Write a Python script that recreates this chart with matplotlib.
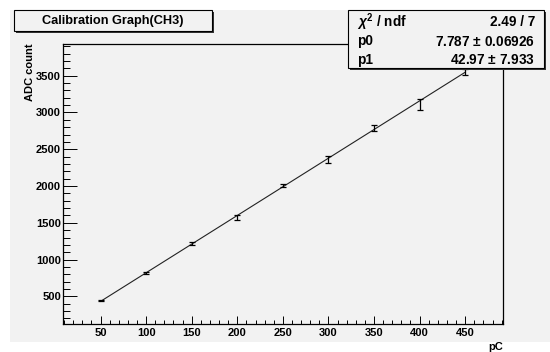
import matplotlib
matplotlib.use("Agg")
import matplotlib.pyplot as plt
from matplotlib.patches import Rectangle
from matplotlib.ticker import MultipleLocator
import numpy as np

# ---- data ----
charge_pC = [50, 100, 150, 200, 250, 300, 350, 400, 450]
adc_count = [440, 818, 1220, 1573, 2012, 2357, 2788, 3110, 3545]
adc_error = [8, 15, 15, 40, 20, 50, 40, 80, 40]
fit_p0 = 7.787
fit_p1 = 42.97
title_text = "Calibration Graph(CH3)"
stats_rows = [("$\\chi^{2}$ / ndf", "2.49 / 7"),
              ("p0", "7.787 $\\pm$ 0.06926"),
              ("p1", "42.97 $\\pm$ 7.933")]
x_label = "pC"
y_label = "ADC count"

W, H = 550, 352
BG = "#f2f2f2"
FONT = ["Liberation Sans", "DejaVu Sans"]
plt.rcParams["font.family"] = FONT
plt.rcParams["font.weight"] = "bold"
plt.rcParams["mathtext.fontset"] = "custom"
plt.rcParams["mathtext.rm"] = "Liberation Sans:bold"
plt.rcParams["mathtext.it"] = "Liberation Sans:italic:bold"
plt.rcParams["mathtext.bf"] = "Liberation Sans:bold"


def fx(x):
    return x / W


def fy(y):
    return 1 - y / H


fig = plt.figure(figsize=(W / 100, H / 100), dpi=100)
fig.patch.set_facecolor("white")
# canvas gray area
fig.patches.append(Rectangle((fx(10), fy(342)), fx(550) - fx(10), fy(10) - fy(342),
                             transform=fig.transFigure, facecolor=BG, edgecolor="none", zorder=-5))

L, T, R, B = 63, 44, 503, 324
ax = fig.add_axes([fx(L), fy(B), (R - L) / W, (B - T) / H])
ax.set_zorder(1)
ax.set_facecolor(BG)
ax.set_xlim(8.8, 491.5)
ax.set_ylim(125, 3931)

xs = np.array(charge_pC, dtype=float)
ax.plot([xs.min(), xs.max()], [fit_p0 * xs.min() + fit_p1, fit_p0 * xs.max() + fit_p1],
        color="#222222", lw=0.8, zorder=2)
ax.errorbar(charge_pC, adc_count, yerr=adc_error, fmt="none", ecolor="black",
            elinewidth=0.9, capsize=2, capthick=0.9, zorder=3)

ax.xaxis.set_major_locator(MultipleLocator(50))
ax.xaxis.set_minor_locator(MultipleLocator(10))
ax.yaxis.set_major_locator(MultipleLocator(500))
ax.yaxis.set_minor_locator(MultipleLocator(100))
ax.set_xticks([50, 100, 150, 200, 250, 300, 350, 400, 450])
ax.set_yticks([500, 1000, 1500, 2000, 2500, 3000, 3500])

for s in ax.spines.values():
    s.set_linewidth(0.9)
    s.set_color("black")

ax.tick_params(axis="x", which="major", direction="in", length=5.8, width=0.7,
               labelsize=8, pad=3.2, top=False)
ax.tick_params(axis="x", which="minor", direction="in", length=2.9, width=0.7, top=False)
ax.tick_params(axis="y", which="major", direction="in", length=10, width=0.7,
               labelsize=8, pad=1.4, right=False)
ax.tick_params(axis="y", which="minor", direction="in", length=5, width=0.7, right=False)
for lab in ax.get_xticklabels() + ax.get_yticklabels():
    lab.set_fontweight("bold")

# axis titles
fig.text(fx(503), fy(347), x_label, ha="right", va="center", fontsize=8, fontweight="bold")
fig.text(fx(30), fy(43), y_label, ha="center", va="top", rotation=90, fontsize=8,
         fontweight="bold")

# title box
tx0, ty0, tx1, ty1 = 14, 10, 212, 31
fig.patches.append(Rectangle((fx(tx0 + 2), fy(ty1 + 2)), fx(tx1) - fx(tx0), fy(ty0) - fy(ty1),
                             transform=fig.transFigure, facecolor="#333333", edgecolor="none", zorder=5))
fig.patches.append(Rectangle((fx(tx0), fy(ty1)), fx(tx1) - fx(tx0), fy(ty0) - fy(ty1),
                             transform=fig.transFigure, facecolor=BG, edgecolor="black", lw=0.8, zorder=6))
fig.text(fx((tx0 + tx1) / 2), fy((ty0 + ty1) / 2 + 0.5), title_text, ha="center", va="center",
         fontsize=9.2, fontweight="bold", zorder=7)

# stats box
sx0, sy0, sx1, sy1 = 348, 10, 544, 68
fig.patches.append(Rectangle((fx(sx0 + 2), fy(sy1 + 2)), fx(sx1) - fx(sx0), fy(sy0) - fy(sy1),
                             transform=fig.transFigure, facecolor="#333333", edgecolor="none", zorder=5))
fig.patches.append(Rectangle((fx(sx0), fy(sy1)), fx(sx1) - fx(sx0), fy(sy0) - fy(sy1),
                             transform=fig.transFigure, facecolor=BG, edgecolor="black", lw=0.8, zorder=6))
row_y = [22.5, 41.5, 60]
for (k, v), yy in zip(stats_rows, row_y):
    fig.text(fx(357), fy(yy), k, ha="left", va="center", fontsize=9.8, fontweight="bold", zorder=7)
    fig.text(fx(535), fy(yy), v, ha="right", va="center", fontsize=9.8, fontweight="bold", zorder=7)

fig.savefig("out.png", dpi=100, facecolor=fig.get_facecolor())
